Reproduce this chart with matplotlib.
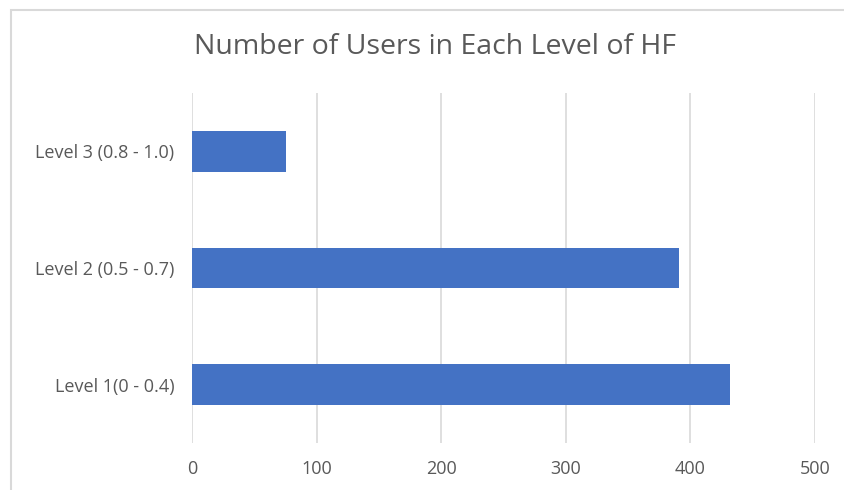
import matplotlib.pyplot as plt
from matplotlib.patches import Rectangle

categories = ["Level 1(0 - 0.4)", "Level 2 (0.5 - 0.7)", "Level 3 (0.8 - 1.0)"]
users = [432, 391, 75]
x_ticks = [0, 100, 200, 300, 400, 500]

plt.rcParams['font.family'] = ['Open Sans', 'DejaVu Sans']
text_color = '#595959'

fig = plt.figure(figsize=(8.45, 4.9), dpi=100)
ax = fig.add_axes([192.5 / 845, 47 / 490, (815 - 192.5) / 845, 350 / 490])

# light gray chart border (cut off at right and bottom like the screenshot)
fig.patches.append(Rectangle((11 / 845, -0.1), 1.1, (490 - 10) / 490 + 0.1,
                             transform=fig.transFigure, fill=False,
                             edgecolor='#d9d9d9', linewidth=1.5))

ax.barh(range(len(categories)), users, height=0.35, color='#4472C4', zorder=3)
ax.set_xlim(0, 500)
ax.set_ylim(-0.5, 2.5)
ax.set_xticks(x_ticks)
ax.set_yticks(range(len(categories)))
ax.set_yticklabels(categories)
ax.grid(axis='x', color='#d9d9d9', linewidth=1.2, zorder=0)
for s in ax.spines.values():
    s.set_visible(False)
ax.tick_params(length=0, colors=text_color, labelsize=13)
ax.tick_params(axis='x', pad=12)
ax.tick_params(axis='y', pad=13)

fig.text(435.5 / 845, 1 - 47 / 490, "Number of Users in Each Level of HF",
         ha='center', va='center', fontsize=20.5, color=text_color)

fig.savefig("out.png", dpi=100)
